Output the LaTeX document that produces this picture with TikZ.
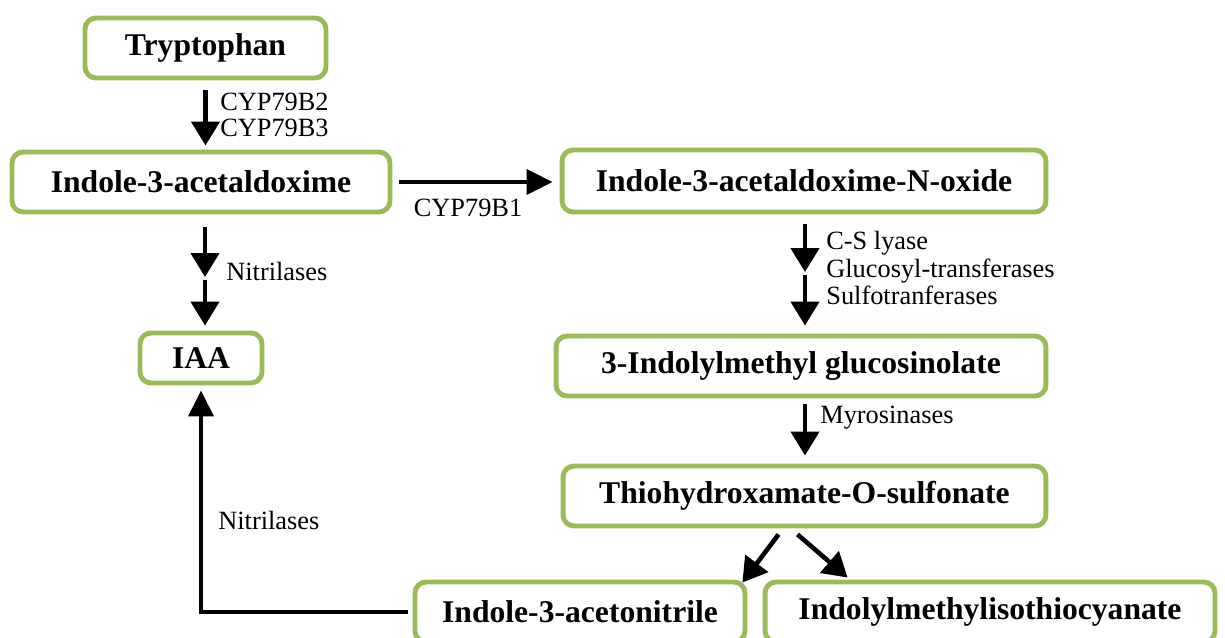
\documentclass[tikz,border=0pt]{standalone}
\usepackage{fontspec}
\setmainfont{Liberation Serif}
\usetikzlibrary{arrows.meta,calc}
\definecolor{leafgreen}{RGB}{155,187,89}

\begin{document}
\begin{tikzpicture}[x=0.02cm, y=-0.02cm,
        pathbox/.style={draw=leafgreen, line width=2.8pt, rounded corners=0.22cm,
          fill=white, minimum height=1.2cm, inner sep=0pt,
          font=\fontsize{18}{21}\selectfont\bfseries},
        fat/.style={line width=2.6pt, -{Triangle[width=0.56cm,length=0.48cm]}},
        slim/.style={line width=2.1pt, -{Triangle[width=0.5cm,length=0.52cm]}},
        enzyme/.style={font=\fontsize{15}{14.5}\selectfont, align=left,
          anchor=west, inner sep=0pt}]
        \useasboundingbox (0,0) rectangle (1225,638);

        % compounds
        \node[pathbox, minimum width=4.82cm] (trp) at (205.5,48) {Tryptophan};
        \node[pathbox, minimum width=7.56cm] (iaox) at (201,182) {Indole-3-acetaldoxime};
        \node[pathbox, minimum width=9.68cm, minimum height=1.24cm] (iaoxn) at (804,181) {Indole-3-acetaldoxime-N-oxide};
        \node[pathbox, minimum width=2.44cm, minimum height=1.0cm] (iaa) at (201,358) {IAA};
        \node[pathbox, minimum width=9.8cm] (glucos) at (801,366) {3-Indolylmethyl glucosinolate};
        \node[pathbox, minimum width=9.66cm] (tos) at (804.5,496) {Thiohydroxamate-O-sulfonate};
        \node[pathbox, minimum width=6.6cm] (ian) at (580,612) {Indole-3-acetonitrile};
        \node[pathbox, minimum width=9.0cm] (itc) at (990,612) {Indolylmethylisothiocyanate};

        \coordinate (m1) at (205,277);
        \coordinate (m2) at (805,272);

        % reactions
        \draw[fat, shorten <=0.2cm, shorten >=0.08cm] (trp.south) -- (trp.south |- iaox.north)
            node[enzyme, midway, xshift=0.25cm] (cyp23) {CYP79B2\\CYP79B3};
        \draw[slim, shorten <=0.14cm, shorten >=0.14cm] (iaox.east) -- (iaox.east -| iaoxn.west)
            node[enzyme, anchor=north, midway, yshift=-0.3cm, xshift=-0.16cm] (cyp1) {CYP79B1};
        \draw[fat, shorten <=0.26cm] (iaox.south -| m1) -- (m1);
        \draw[fat, shorten <=0.06cm, shorten >=0.1cm] (m1) -- (m1 |- iaa.north);
        \node[enzyme] (nit1) at (226,271) {Nitrilases};
        \draw[fat, shorten <=0.2cm] (iaoxn.south -| m2) -- (m2);
        \draw[fat, shorten <=0.06cm, shorten >=0.16cm] (m2) -- (m2 |- glucos.north);
        \node[enzyme, font=\fontsize{15}{15.4}\selectfont] (cslyase) at (826,268)
            {C-S lyase\\Glucosyl-transferases\\Sulfotranferases};
        \draw[fat, shorten <=0.12cm, shorten >=0.16cm] (glucos.south -| m2) -- (tos.north -| m2);
        \node[enzyme] (myr) at (820,418) {Myrosinases};
        \draw[fat] ($(tos.south)+(-26,6)$) -- ($(ian.north east)+(-5,3)$);
        \draw[fat] ($(tos.south)+(-7,6)$) -- ($(itc.north west)+(85,-2)$);
        \draw[slim, shorten <=0.1cm, shorten >=0.1cm] (ian.west) -| (iaa.south);
        \node[enzyme] (nit2) at (218,520) {Nitrilases};
    \end{tikzpicture}
\end{document}
